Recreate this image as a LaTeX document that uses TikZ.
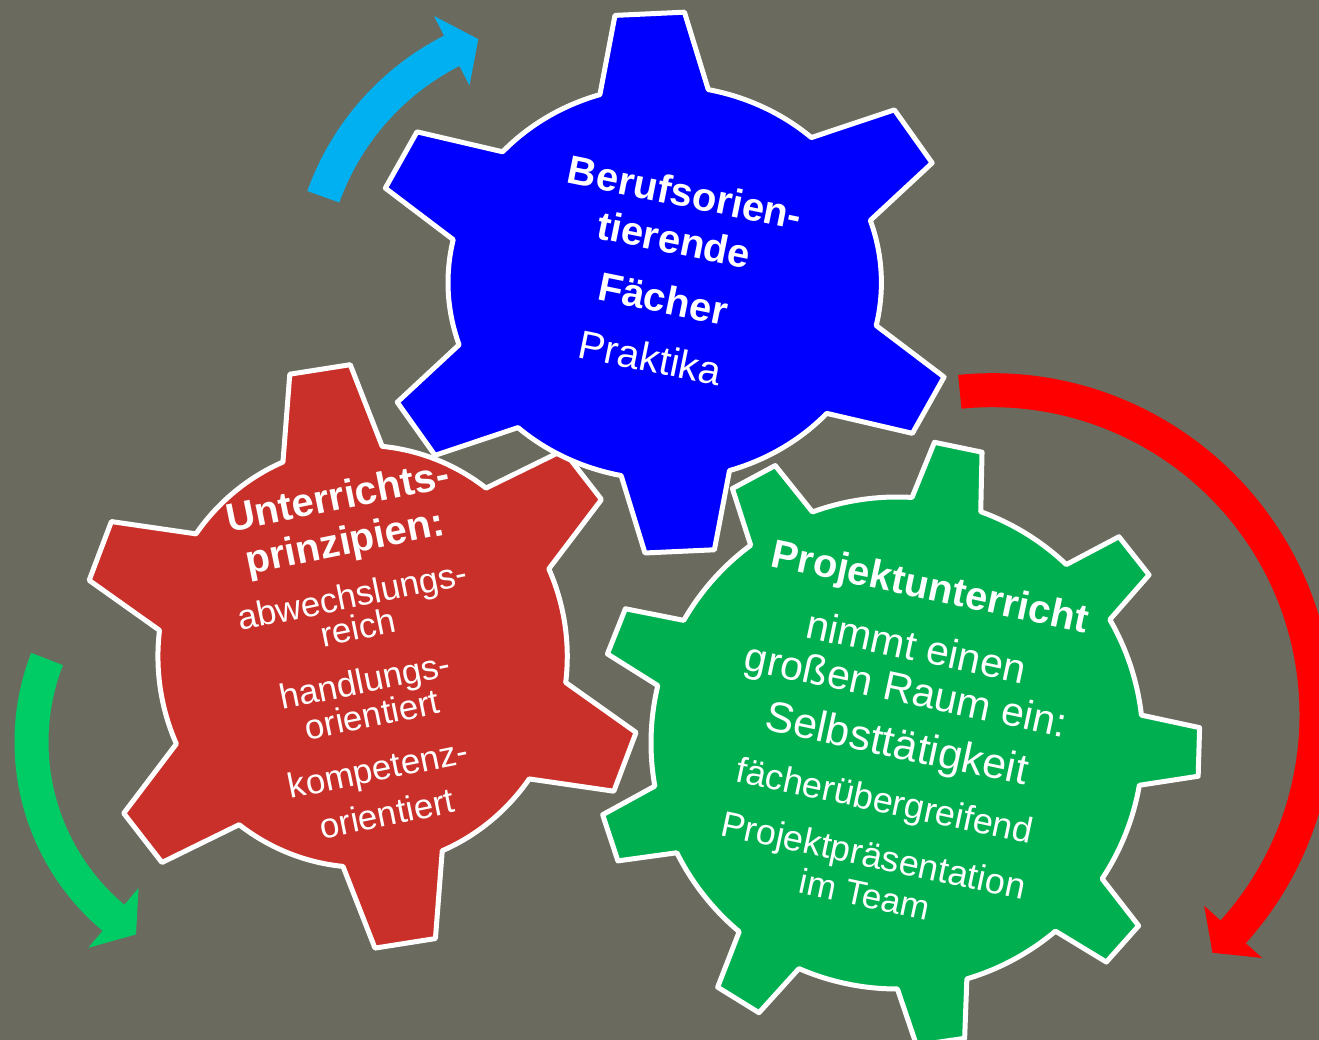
\documentclass[tikz,border=0pt]{standalone}
\usepackage{fontspec}
\setmainfont{Liberation Sans}
\usepackage{xcolor}
\definecolor{backdrop}{HTML}{6A6B5E}
\definecolor{gearblue}{HTML}{0000FF}
\definecolor{gearred}{HTML}{C9302A}
\definecolor{geargreen}{HTML}{00AF50}
\definecolor{arrowblue}{HTML}{00B0F0}
\definecolor{arrowgreen}{HTML}{00CC66}
\definecolor{arrowred}{HTML}{FF0000}
\tikzset{
    gear-line/.style = {draw=white, line width=5pt, line join=round},
    gear-text/.style = {text=white, inner sep=0pt, anchor=mid},
    head-text/.style = {gear-text, font=\fontsize{40}{48}\selectfont\bfseries},
    body-text/.style = {gear-text, font=\fontsize{#1}{#1}\selectfont},
    body-text/.default = 35,
}
% centre, x stretch, teeth, body radius, tip radius, phase, half angle at base, half angle at tip, fill
\newcommand{\gear}[9]{%
  \draw[gear-line, fill=#9, shift={(#1)}, xscale=#2] ({#6+#7}:#4)
    \foreach \k in {1,...,#3}{
      arc[start angle={#6+(\k-1)*360/#3+#7}, end angle={#6+\k*360/#3-#7}, radius=#4]
      -- ({#6+\k*360/#3-#8}:#5) -- ({#6+\k*360/#3+#8}:#5) -- ({#6+\k*360/#3+#7}:#4)
    } -- cycle;
}
% centre, mid radius, start angle, angle at head, angle at tip, colour
\newcommand{\turnarrow}[6]{%
  \fill[#6, shift={(#1)}] ({#3}:{#2+17}) arc[start angle=#3, end angle=#4, radius={#2+17}]
    -- ({#4}:{#2+39}) -- ({#5}:#2) -- ({#4}:{#2-39}) -- ({#4}:{#2-17})
    arc[start angle=#4, end angle=#3, radius={#2-17}] -- cycle;
}

\begin{document}
\begin{tikzpicture}[x=1pt, y=1pt]
\useasboundingbox (0,0) rectangle (1319,1040);
\clip (0,0) rectangle (1319,1040);
\fill[backdrop] (0,0) rectangle (1319,1040);

\coordinate (blue-hub) at (664.7,757.4);
\coordinate (red-hub) at (362.6,383.6);
\coordinate (green-hub) at (897,297);
\coordinate (blue-turn) at (571.4,754.4);
\coordinate (green-turn) at (261,298);
\coordinate (red-turn) at (992,325.3);

% turning arrows
\turnarrow{blue-turn}{263.5}{160.3}{117}{110.7}{arrowblue}
\turnarrow{green-turn}{229.5}{158.8}{230}{237}{arrowgreen}
\turnarrow{red-turn}{324.5}{95.7}{-42}{-47.2}{arrowred}

% gears
\gear{green-hub}{1}{9}{246}{303}{118.3}{8.2}{4.6}{geargreen}
\gear{red-hub}{0.97}{6}{211}{292}{98.7}{14.2}{6.2}{gearred}
\gear{blue-hub}{1.1}{6}{197}{271}{92.9}{14.5}{6.7}{gearblue}

% blue gear
\node[head-text, rotate=-11.5] (berufs) at (683,836) {Berufsorien-};
\node[head-text, rotate=-11.5] (tierende) at (672,789) {tierende};
\node[head-text, rotate=-11.5] (faecher) at (661,730) {Fächer};
\node[body-text=40, rotate=-11.5] (praktika) at (648,671) {Praktika};

% red gear
\node[head-text, rotate=11.5] (unterrichts) at (340,533) {Unterrichts-};
\node[head-text, rotate=11.5] (prinzipien) at (347,488) {prinzipien:};
\node[body-text, rotate=11.5] (abwechslungs) at (354.5,435) {abwechslungs-};
\node[body-text, rotate=11.5] (reich) at (360,403) {reich};
\node[body-text, rotate=11.5] (handlungs) at (367,350) {handlungs-};
\node[body-text, rotate=11.5] (orientiert-a) at (374,316) {orientiert};
\node[body-text, rotate=11.5] (kompetenz) at (380,262) {kompetenz-};
\node[body-text, rotate=11.5] (orientiert-b) at (389,217) {orientiert};

% green gear
\node[head-text, rotate=-12] (projekt) at (928,443) {Projektunterricht};
\node[body-text=41, rotate=-12] (nimmt) at (914,382) {nimmt einen};
\node[body-text=41, rotate=-12] (raum) at (904,339) {großen Raum ein:};
\node[body-text=43, rotate=-12] (selbst) at (894.5,285) {Selbsttätigkeit};
\node[body-text=36, rotate=-12] (faecheruebergreifend) at (882.6,230) {fächerübergreifend};
\node[body-text=36, rotate=-12] (praesentation) at (871.5,175) {Projektpräsentation};
\node[body-text, rotate=-12] (team) at (862.8,136) {im Team};
\end{tikzpicture}
\end{document}
